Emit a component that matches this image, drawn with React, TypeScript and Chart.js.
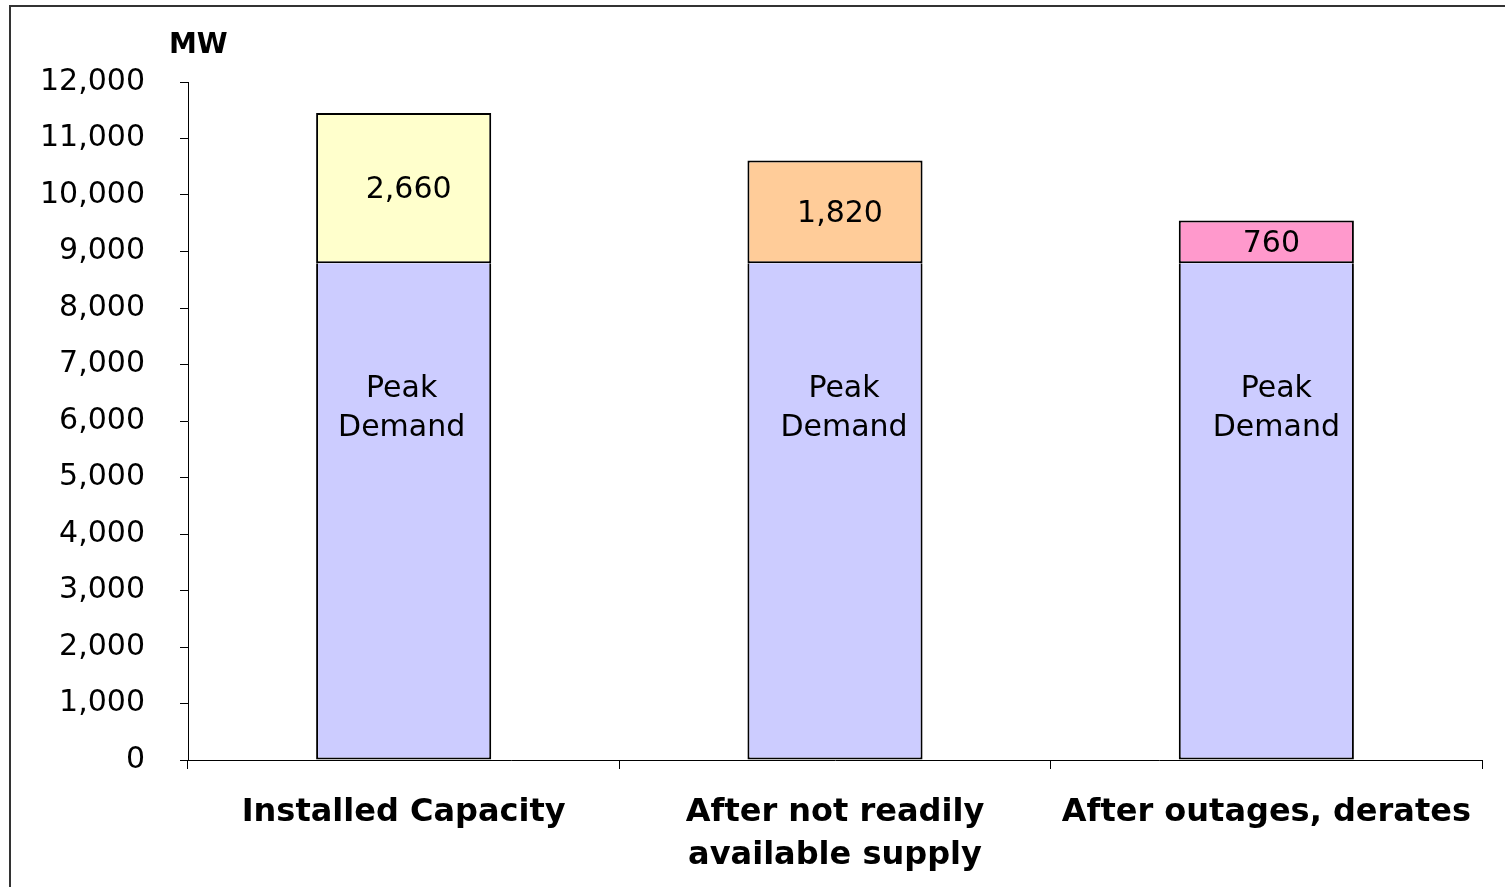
import React, { useEffect, useRef } from "react";
import { Chart, registerables } from "chart.js";

Chart.register(...registerables);

const categories: (string | string[])[] = [
  "Installed Capacity",
  ["After not readily", "available supply"],
  "After outages, derates",
];
const peakDemand = [8790, 8790, 8790];
const margin = [2660, 1820, 760];
const marginColors = ["#FFFFCC", "#FFCC99", "#FF99CC"];
const peakColor = "#CCCCFF";
const peakLabel = ["Peak", "Demand"];
const yMin = 0;
const yMax = 12000;
const yStep = 1000;
const unitLabel = "MW";

const peakLabelShift = [-2, 9, 10];

const labelsPlugin = {
  id: "customLabels",
  afterDatasetsDraw(chart: any) {
    const ctx = chart.ctx;
    ctx.save();
    ctx.fillStyle = "#000";
    ctx.textAlign = "center";
    ctx.textBaseline = "middle";
    ctx.font = "30px 'DejaVu Sans'";
    const m0 = chart.getDatasetMeta(0);
    m0.data.forEach((el: any, i: number) => {
      const cy = el.base - 0.71 * (el.base - el.y);
      const dx = peakLabelShift[i] || 0;
      ctx.fillText(peakLabel[0], el.x + dx, cy - 18);
      ctx.fillText(peakLabel[1], el.x + dx, cy + 21);
    });
    const m1 = chart.getDatasetMeta(1);
    m1.data.forEach((el: any, i: number) => {
      const cy = (el.y + el.base) / 2;
      ctx.fillText(margin[i].toLocaleString("en-US"), el.x + 5, cy + 2);
    });
    ctx.font = "bold 28px 'DejaVu Sans'";
    ctx.textAlign = "left";
    ctx.fillText(unitLabel, 169, 46);
    // frame
    ctx.strokeStyle = "#333";
    ctx.lineWidth = 2;
    ctx.beginPath();
    ctx.moveTo(10, 900);
    ctx.lineTo(10, 6);
    ctx.lineTo(1520, 6);
    ctx.stroke();
    ctx.restore();
  },
};

export default function App() {
  const ref = useRef<HTMLCanvasElement>(null);
  useEffect(() => {
    if (!ref.current) return;
    const chart = new Chart(ref.current, {
      type: "bar",
      data: {
        labels: categories,
        datasets: [
          {
            label: "Peak Demand",
            data: peakDemand,
            backgroundColor: peakColor,
            borderColor: "#000",
            borderWidth: 2,
            borderSkipped: "top",
          },
          {
            label: "Margin",
            data: margin,
            backgroundColor: marginColors,
            borderColor: "#000",
            borderWidth: 2,
            borderSkipped: false,
          },
        ],
      },
      options: {
        animation: false,
        responsive: false,
        maintainAspectRatio: false,
        layout: { padding: { left: 0, right: 23, top: 82, bottom: 0 } },
        plugins: { legend: { display: false }, tooltip: { enabled: false } },
        datasets: { bar: { categoryPercentage: 1, barPercentage: 0.406 } },
        scales: {
          x: {
            stacked: true,
            offset: true,
            grid: { offset: true, drawOnChartArea: false, tickLength: 9, color: "#000", lineWidth: 1 },
            border: { color: "#000", width: 1 },
            ticks: {
              color: "#000",
              font: { family: "'DejaVu Sans'", size: 32, weight: "bold", lineHeight: 1.35 },
              padding: 22,
              maxRotation: 0,
              autoSkip: false,
            },
            afterFit: (s: any) => { s.height = 127; },
          },
          y: {
            stacked: true,
            min: yMin,
            max: yMax,
            grid: { drawOnChartArea: false, tickLength: 8, color: "#000", lineWidth: 1 },
            border: { color: "#000", width: 1 },
            ticks: {
              stepSize: yStep,
              color: "#000",
              font: { family: "'DejaVu Sans'", size: 30 },
              padding: 35,
              callback: (v: any) => Number(v).toLocaleString("en-US"),
            },
            afterFit: (s: any) => { s.width = 188; },
          },
        },
      },
      plugins: [labelsPlugin],
    });
    return () => chart.destroy();
  }, []);
  return (
    <div style={{ position: "fixed", left: 0, top: 0, width: 1505, height: 887, background: "#fff" }}>
      <canvas ref={ref} width={1505} height={887} style={{ width: 1505, height: 887, display: "block" }} />
    </div>
  );
}
